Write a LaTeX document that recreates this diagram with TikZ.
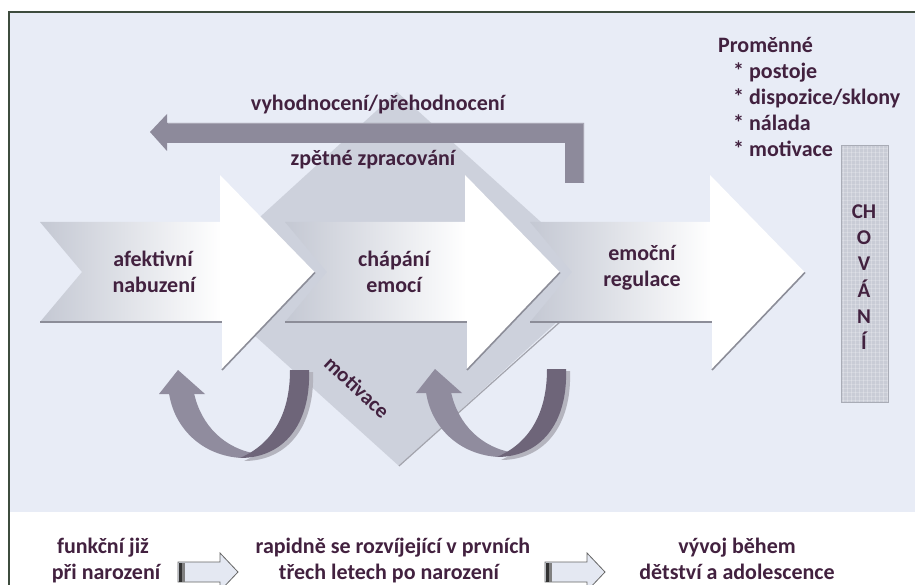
\documentclass[tikz,border=0pt]{standalone}
\usepackage{fontspec}
\setmainfont{Carlito}
\definecolor{bgc}{HTML}{E8ECF6}
\definecolor{framec}{HTML}{3E4C3E}
\definecolor{txt}{HTML}{42213F}
\definecolor{agray}{HTML}{C4C8D3}
\definecolor{diam}{HTML}{CDD1DC}
\definecolor{backc}{HTML}{8D8A9B}
\definecolor{backhi}{HTML}{A7A5B3}
\definecolor{udark}{HTML}{6E6579}
\definecolor{ulight}{HTML}{908C9E}
\definecolor{ushadow}{HTML}{B4B4BE}
\definecolor{edgec}{HTML}{8C8D98}
\definecolor{boxc}{HTML}{C9CCD6}
\definecolor{boxl}{HTML}{A9ACB6}
\definecolor{smallc}{HTML}{E4E8F2}
\pgfdeclarehorizontalshading{bigarrow}{100bp}{color(0bp)=(agray); color(25bp)=(agray); color(58bp)=(white); color(100bp)=(white)}
\tikzset{
  lbl/.style={font=\bfseries\fontsize{22}{26}\selectfont, text=txt, inner sep=0pt, anchor=base},
  lblch/.style={font=\bfseries\fontsize{21}{26}\selectfont, text=txt, inner sep=0pt, anchor=base},
  lblsm/.style={font=\bfseries\fontsize{22}{26}\selectfont, text=txt, inner sep=0pt, anchor=base},
  bigarr/.style={shading=bigarrow},
  arredge/.style={draw=edgec, line width=1.6pt},
  uright/.style={fill=udark},
  uleft/.style={fill=ulight},
  smallarr/.style={fill=smallc, draw=gray!80!black, line width=0.8pt}
}
\newcommand\bigarrowshape{(40,222) -- (220,222) -- (220,175) -- (315,272.5) -- (222,370) -- (222,322) -- (40,322) -- (82,272) -- cycle}
\newcommand\uarrow{%
  \fill[ushadow] (294,372) -- (313,372) .. controls (315,427) and (287,461) .. (244,461) .. controls (276,447) and (294,417) .. (294,372) -- cycle;
  \fill[uleft] (242,458) .. controls (202,456) and (174,428) .. (169,393) -- (194,393) .. controls (201,425) and (224,449) .. (258,454) -- cycle;
  \fill[uleft] (159,394) -- (178,370) -- (205,394) -- cycle;
  \fill[uright] (290,370) -- (309,370) .. controls (311,425) and (283,458) .. (240,458) .. controls (272,444) and (290,415) .. (290,370) -- cycle;
}
\begin{document}
\begin{tikzpicture}[x=1pt,y=-1pt]
\useasboundingbox (0,0) rectangle (915,585);
\fill[white] (0,0) rectangle (915,585);
% background panel
\fill[bgc] (9,12) rectangle (915,512);
\draw[framec, line width=1.3pt] (9,585) -- (9,12) -- (915,12);
% diamond
\fill[diam] (397,92) -- (604,279) -- (399,466) -- (192,279) -- cycle;
\draw[edgec!80, line width=1.2pt] (399,466) -- (560,322);
% back arrow
\fill[backc] (584,183) -- (584,123) -- (167,123) -- (167,114) -- (150,132) -- (167,151) -- (167,143) -- (565,143) -- (565,183) -- cycle;
\draw[backhi, line width=1pt] (168,124) -- (583,124) -- (583,182);
% big arrows (right to left so heads overlap notches)
\begin{scope}[shift={(490,0)}]
  \shade[bigarr] \bigarrowshape;
  \draw[arredge] (40,322) -- (222,322);
  \draw[arredge] (222,370) -- (315,272.5);
\end{scope}
\begin{scope}[shift={(245,0)}]
  \shade[bigarr] \bigarrowshape;
  \draw[arredge] (40,322) -- (222,322);
  \draw[arredge] (222,370) -- (315,272.5);
\end{scope}
\shade[bigarr] \bigarrowshape;
\draw[arredge] (40,322) -- (222,322);
\draw[arredge] (222,370) -- (315,272.5);
% U arrows
\uarrow
\begin{scope}[shift={(257,-1)}]\uarrow\end{scope}
% CHOVANI box
\fill[boxc] (841,146) rectangle (888,402);
\foreach \i in {0,...,11} {\draw[white, opacity=0.25, line width=0.4pt] (843+\i*4,146) -- (843+\i*4,402);}
\foreach \j in {0,...,63} {\draw[white, opacity=0.2, line width=0.4pt] (841,148+\j*4) -- (888,148+\j*4);}
\draw[boxl, line width=1pt] (841,146) rectangle (888,402);
% labels
\node[lbl] (back1) at (378,111) {vyhodnocení/přehodnocení};
\node[lbl] (back2) at (373,166) {zpětné zpracování};
\node[lbl] (a1) at (153,267) {afektivní};
\node[lbl] (a2) at (154,292) {nabuzení};
\node[lbl] (b1) at (394,267) {chápání};
\node[lbl] (b2) at (394,292) {emocí};
\node[lbl] (c1) at (642,261) {emoční};
\node[lbl] (c2) at (642,287) {regulace};
\node[lblch, rotate=-43, anchor=center] (mot) at (357,387) {motivace};
\node[lbl, anchor=base west] (p0) at (718,53) {Proměnné};
\node[lbl, anchor=base west] (p1) at (733,79) {* postoje};
\node[lbl, anchor=base west] (p2) at (733,105) {* dispozice/sklony};
\node[lbl, anchor=base west] (p3) at (733,131) {* nálada};
\node[lbl, anchor=base west] (p4) at (733,157) {* motivace};
\node[lblch] (ch1) at (864,219) {CH};
\node[lblch] (ch2) at (864,245) {O};
\node[lblch] (ch3) at (864,271) {V};
\node[lblch] (ch4) at (864,297) {Á};
\node[lblch] (ch5) at (864,323) {N};
\node[lblch] (ch6) at (864,349) {Í};
% bottom row
\node[lblsm] (f1) at (103,553) {funkční již};
\node[lblsm] (f2) at (106,579) {při narození};
\node[lblsm] (r1) at (393,553) {rapidně se rozvíjející v prvních};
\node[lblsm] (r2) at (389,579) {třech letech po narození};
\node[lblsm] (v1) at (737,553) {vývoj během};
\node[lblsm] (v2) at (737,579) {dětství a adolescence};
\foreach \dx in {0,367} {
  \begin{scope}[shift={(\dx,0)}]
    \path[smallarr] (178,562) -- (220,562) -- (220,553) -- (238,572) -- (220,591) -- (220,582) -- (178,582) -- cycle;
    \fill[black!80] (178.5,562.5) rectangle (182,581.5);
    \fill[gray] (182,562.5) rectangle (185,581.5);
  \end{scope}
}
\end{tikzpicture}
\end{document}
